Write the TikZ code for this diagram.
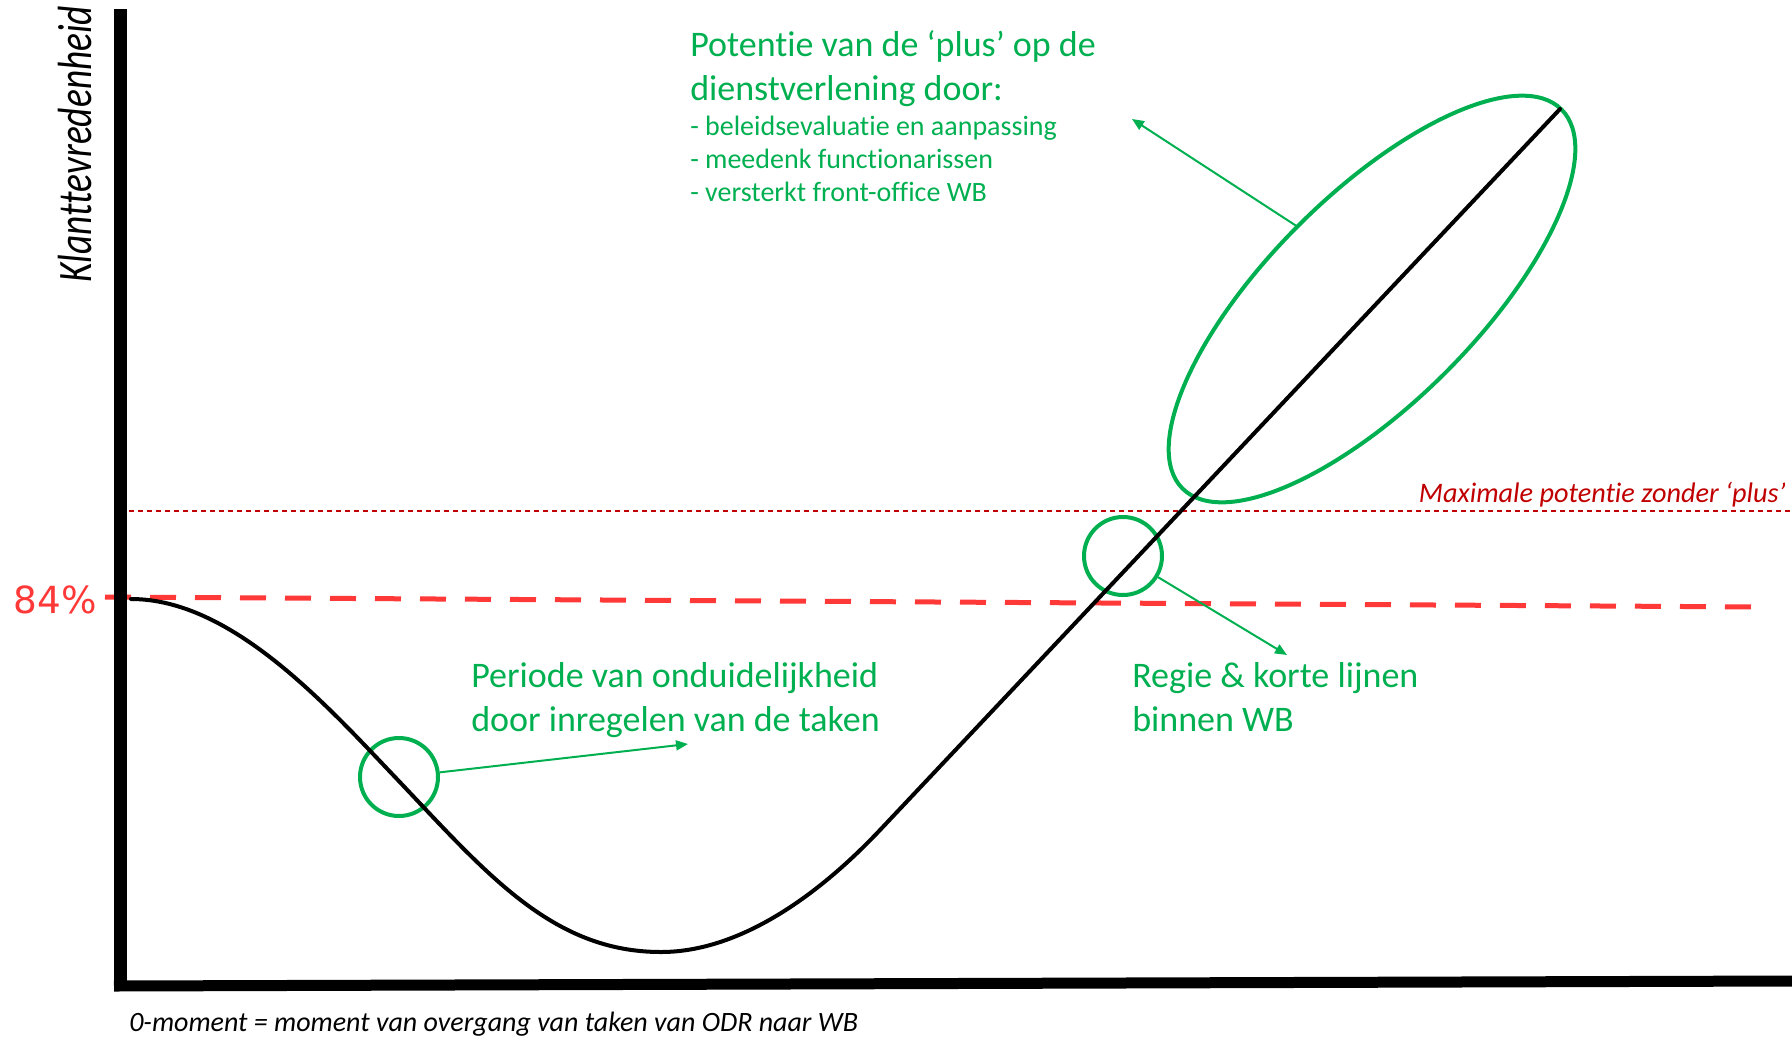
\documentclass[tikz,border=0pt]{standalone}
\usepackage{fontspec}
\setmainfont{Carlito}[Ligatures=NoCommon]
\newfontfamily\condfont[FakeStretch=0.78,Ligatures=NoCommon]{Carlito}
\newfontfamily\dvsfont{DejaVu Sans}
\usetikzlibrary{arrows.meta,shapes.geometric}
\definecolor{grn}{RGB}{0,176,80}
\definecolor{brightred}{RGB}{255,56,56}
\definecolor{darkred}{RGB}{192,0,0}
\begin{document}
\begin{tikzpicture}[x=0.75pt,y=-0.75pt,
  greenlabel/.style={text=grn, font=\fontsize{27pt}{33pt}\selectfont, align=left, inner sep=0, anchor=base west},
  bulletlabel/.style={text=grn, font=\fontsize{21pt}{24.75pt}\selectfont, align=left, inner sep=0, anchor=base west},
  ring/.style={circle, draw=grn, line width=3pt, minimum size=58.5pt, inner sep=0},
  pointer/.style={draw=grn, line width=1.5pt, -{Triangle[length=9pt,width=7.5pt]}},
  curveline/.style={line width=3pt, line cap=round},
  axisline/.style={line width=9.75pt},
]
\useasboundingbox (0,0) rectangle (1792,1036);

% reference lines
\draw[brightred, line width=3.75pt, dash pattern=on 19.5pt off 14.25pt] (105,597) -- (1768,607);
\draw[darkred, line width=1.1pt, dash pattern=on 3.75pt off 3pt] (129,511) -- (1790,511);

% green highlights
\node[ring] (c1) at (399,777) {};
\node[ring] (c2) at (1123,556) {};
\node[ellipse, draw=grn, line width=3pt, minimum width=402pt, minimum height=156pt, inner sep=0, rotate=45] (el) at (1372,299) {};

% curve
\draw[curveline] (131,599) .. controls (231,599) and (325,703.5) .. (395,777)
  .. controls (485,871.5) and (551,952) .. (661,952)
  .. controls (741,952) and (820,893.6) .. (880,830) -- (1560,109);

% axes
\draw[axisline] (120,9) -- (120,991);
\draw[line width=8.25pt] (114,986) -- (1792,981);

% pointers
\coordinate (t1) at (688,744);
\draw[pointer] (c1) -- (t1);
\coordinate (t2) at (1287,655);
\draw[pointer] (c2) -- (t2);
\coordinate (es) at (1298,227);
\coordinate (t3) at (1132,119);
\draw[pointer] (es) -- (t3);

% labels (anchor = baseline of the last line)
\node[greenlabel] (lbl1) at (471,731) {Periode van onduidelijkheid\\door inregelen van de taken};
\node[greenlabel] (lbl2) at (1132,731) {Regie \& korte lijnen\\binnen WB};
\node[greenlabel] (lbl3) at (690,100) {Potentie van de ‘plus’ op de\\dienstverlening door:};
\node[bulletlabel] (lbl4) at (690,201) {- beleidsevaluatie en aanpassing\\- meedenk functionarissen\\- versterkt front-office WB};
\node[text=darkred, font=\fontsize{21.2pt}{24pt}\selectfont\itshape, anchor=base east, inner sep=0] (maxl) at (1786,502) {Maximale potentie zonder ‘plus’};
\node[text=brightred, font=\dvsfont\fontsize{28pt}{32pt}\selectfont, anchor=base east, inner sep=0] (pct) at (97,613) {84\%};
\node[font=\condfont\itshape\fontsize{36pt}{40pt}\selectfont, rotate=90, anchor=base west, inner sep=0] (ylab) at (91,283) {Klanttevredenheid};
\node[font=\itshape\fontsize{21pt}{24pt}\selectfont, anchor=base west, inner sep=0] (xlab) at (129,1031) {0-moment = moment van overgang van taken van ODR naar WB};
\end{tikzpicture}
\end{document}
